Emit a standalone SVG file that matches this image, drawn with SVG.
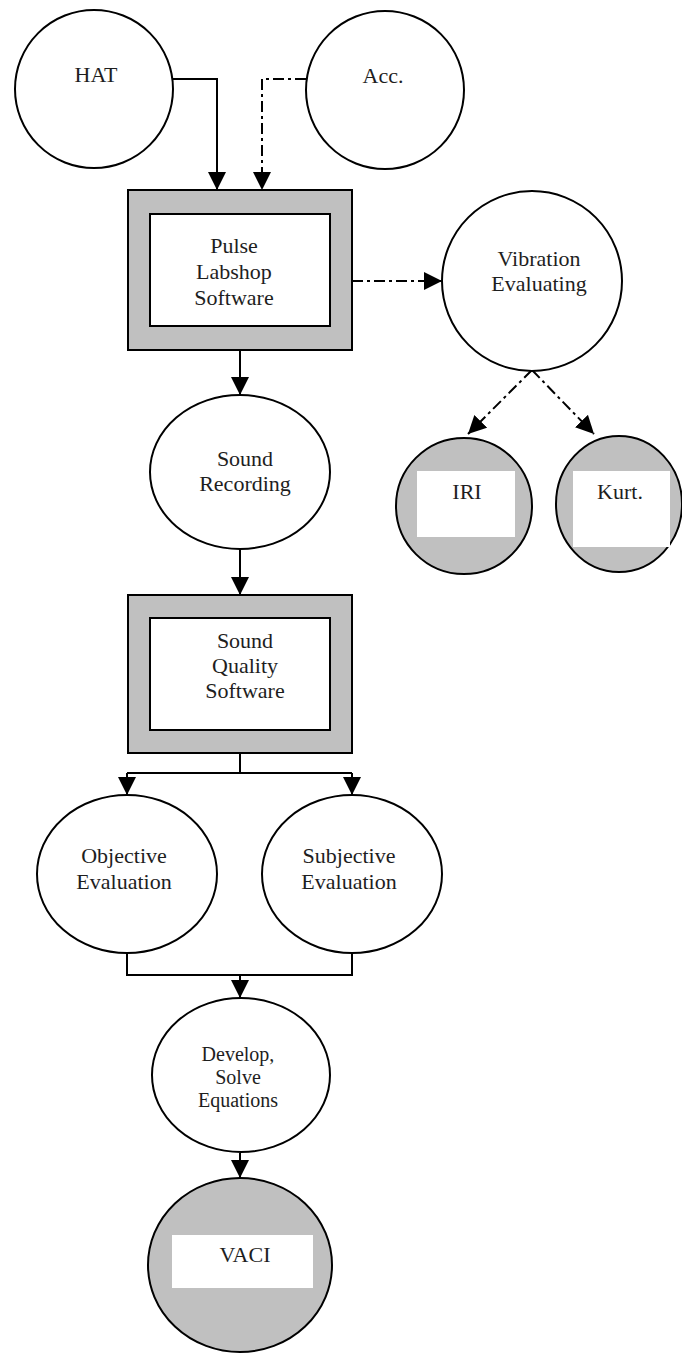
<svg xmlns="http://www.w3.org/2000/svg" width="682" height="1354" viewBox="0 0 682 1354">
  <style>
    .node { fill: #ffffff; stroke: #000000; stroke-width: 2; }
    .shaded { fill: #c0c0c0; stroke: #000000; stroke-width: 2; }
    .panel { fill: #ffffff; stroke: none; }
    .label { font-family: "Liberation Serif", "Times New Roman", serif; font-size: 22px; fill: #1e1e1e; text-anchor: middle; }
    .small { font-size: 20px; }
    .flow { fill: none; stroke: #000000; stroke-width: 2; }
    .dashdot { stroke-dasharray: 11 4 3 4; }
  </style>
  <defs>
    <marker id="arrow" markerUnits="userSpaceOnUse" markerWidth="20" markerHeight="20" refX="18" refY="9" orient="auto">
      <path d="M0,0 L18,9 L0,18 z" fill="#000000"/>
    </marker>
  </defs>

  <!-- connectors -->
  <g id="connectors">
    <path class="flow" d="M173,79 H217 V190" marker-end="url(#arrow)"/>
    <path class="flow dashdot" d="M306,79 H262 V190" marker-end="url(#arrow)"/>
    <path class="flow dashdot" d="M352,281 H442" marker-end="url(#arrow)"/>
    <path class="flow dashdot" d="M532,370 L468,434" marker-end="url(#arrow)"/>
    <path class="flow dashdot" d="M532,370 L594,434" marker-end="url(#arrow)"/>
    <path class="flow" d="M240,350 V395" marker-end="url(#arrow)"/>
    <path class="flow" d="M240,550 V595" marker-end="url(#arrow)"/>
    <path class="flow" d="M240,753 V773 M127,773 H352"/>
    <path class="flow" d="M127,773 V795" marker-end="url(#arrow)"/>
    <path class="flow" d="M352,773 V795" marker-end="url(#arrow)"/>
    <path class="flow" d="M127,954 V975 H352 V954"/>
    <path class="flow" d="M240,975 V998" marker-end="url(#arrow)"/>
    <path class="flow" d="M240,1153 V1178" marker-end="url(#arrow)"/>
  </g>

  <g id="hat">
    <circle class="node" cx="94" cy="89" r="79"/>
    <text class="label" x="96" y="82">HAT</text>
  </g>

  <g id="acc">
    <circle class="node" cx="385" cy="90" r="79"/>
    <text class="label" x="383" y="83">Acc.</text>
  </g>

  <g id="pulse-labshop">
    <rect class="shaded" x="128" y="190" width="224" height="160"/>
    <rect class="node" x="150" y="214" width="180" height="112"/>
    <text class="label" x="234" y="253">Pulse</text>
    <text class="label" x="234" y="279">Labshop</text>
    <text class="label" x="234" y="305">Software</text>
  </g>

  <g id="vibration">
    <circle class="node" cx="532" cy="281" r="90"/>
    <text class="label" x="539" y="266">Vibration</text>
    <text class="label" x="539" y="291">Evaluating</text>
  </g>

  <g id="iri">
    <circle class="shaded" cx="464" cy="506" r="68"/>
    <rect class="panel" x="417" y="471" width="98" height="66"/>
    <text class="label" x="467" y="499">IRI</text>
  </g>

  <g id="kurt">
    <ellipse class="shaded" cx="619" cy="504" rx="63" ry="68"/>
    <rect class="panel" x="573" y="471" width="97" height="76"/>
    <text class="label" x="620" y="499">Kurt.</text>
  </g>

  <g id="sound-recording">
    <ellipse class="node" cx="240" cy="472" rx="90" ry="77"/>
    <text class="label" x="245" y="466">Sound</text>
    <text class="label" x="245" y="491">Recording</text>
  </g>

  <g id="sound-quality">
    <rect class="shaded" x="128" y="595" width="224" height="158"/>
    <rect class="node" x="150" y="618" width="180" height="112"/>
    <text class="label" x="245" y="648">Sound</text>
    <text class="label" x="245" y="673">Quality</text>
    <text class="label" x="245" y="698">Software</text>
  </g>

  <g id="objective">
    <ellipse class="node" cx="127" cy="874" rx="90" ry="79"/>
    <text class="label" x="124" y="863">Objective</text>
    <text class="label" x="124" y="889">Evaluation</text>
  </g>

  <g id="subjective">
    <ellipse class="node" cx="352" cy="874" rx="90" ry="79"/>
    <text class="label" x="349" y="863">Subjective</text>
    <text class="label" x="349" y="889">Evaluation</text>
  </g>

  <g id="develop">
    <ellipse class="node" cx="241" cy="1075" rx="89" ry="77"/>
    <text class="label small" x="238" y="1061">Develop,</text>
    <text class="label small" x="238" y="1084">Solve</text>
    <text class="label small" x="238" y="1107">Equations</text>
  </g>

  <g id="vaci">
    <ellipse class="shaded" cx="240" cy="1265" rx="92" ry="87"/>
    <rect class="panel" x="172" y="1235" width="141" height="53"/>
    <text class="label" x="245" y="1262">VACI</text>
  </g>
</svg>
